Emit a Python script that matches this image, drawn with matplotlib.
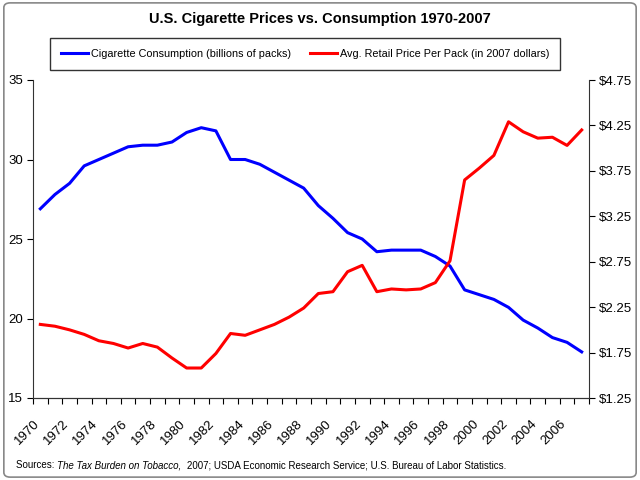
import numpy as np
import matplotlib
matplotlib.use('Agg')
import matplotlib.pyplot as plt
import matplotlib.transforms as mtransforms
from matplotlib.patches import FancyBboxPatch

plt.rcParams['font.family'] = ['Liberation Sans Narrow', 'Liberation Sans', 'DejaVu Sans']

# Data
years = list(range(1970, 2008))
consumption = [26.9, 27.8, 28.5, 29.6, 30.0, 30.4, 30.8, 30.9, 30.9, 31.1,
               31.7, 32.0, 31.8, 30.0, 30.0, 29.7, 29.2, 28.7, 28.2, 27.1,
               26.3, 25.4, 25.0, 24.2, 24.3, 24.3, 24.3, 23.9, 23.3, 21.8,
               21.5, 21.2, 20.7, 19.9, 19.4, 18.8, 18.5, 17.9]
price = [2.06, 2.04, 2.00, 1.95, 1.88, 1.85, 1.80, 1.85, 1.81, 1.69,
         1.58, 1.58, 1.74, 1.96, 1.94, 2.00, 2.06, 2.14, 2.24, 2.40,
         2.42, 2.64, 2.71, 2.42, 2.45, 2.44, 2.45, 2.52, 2.76, 3.65,
         3.78, 3.92, 4.29, 4.18, 4.11, 4.12, 4.03, 4.20]
left_ticks = [15, 20, 25, 30, 35]
right_ticks = [1.25, 1.75, 2.25, 2.75, 3.25, 3.75, 4.25, 4.75]

fig = plt.figure(figsize=(6.4, 4.8), dpi=100)
ax = fig.add_axes([33/640, 82/480, 556/640, 318/480])
ax2 = ax.twinx()

x = np.arange(len(years))
l1, = ax.plot(x, consumption, color='#0000ff', lw=2.2,
              label='Cigarette Consumption (billions of packs)')
l2, = ax2.plot(x, price, color='#ff0000', lw=2.2,
               label='Avg. Retail Price Per Pack (in 2007 dollars)')

ax.set_xlim(-0.5, len(years) - 0.5)
ax.set_ylim(15, 35)
ax2.set_ylim(1.25, 4.75)
ax.set_yticks(left_ticks)
ax2.set_yticks(right_ticks)
ax2.set_yticklabels(['$%.2f' % v for v in right_ticks])

# category boundaries get the tick marks, year labels drawn by hand (slanted)
ax.set_xticks(np.arange(-0.5, len(years)))
ax.set_xticklabels([])
ax.tick_params(axis='x', length=4, direction='out')
lab_tr = ax.get_xaxis_transform() + mtransforms.ScaledTranslation(-5/72, -14/72, fig.dpi_scale_trans)
for i in x[::2]:
    ax.text(i, 0, str(years[i]), transform=lab_tr, rotation=45, ha='right',
            va='top', rotation_mode='anchor', fontsize=9.5)

ax.tick_params(axis='y', direction='out', length=4, labelsize=9.5, pad=3)
ax2.tick_params(axis='y', direction='out', length=4, labelsize=9.5, pad=3)

for a in (ax, ax2):
    a.spines['top'].set_visible(False)
    for s in a.spines.values():
        s.set_color('#333333')
ax.spines['right'].set_visible(False)
ax2.spines['left'].set_visible(False)

fig.text(0.5, 1 - 19/480, 'U.S. Cigarette Prices vs. Consumption 1970-2007',
         ha='center', va='center', fontsize=10.5, fontweight='bold')

leg = fig.legend(handles=[l1, l2], loc='center', bbox_to_anchor=(305/640, 1 - 54/480),
                 ncol=2, frameon=True, fancybox=False, fontsize=7.8,
                 handlelength=2.5, handletextpad=0.3, columnspacing=1.7,
                 borderpad=1.0)
leg.get_frame().set_edgecolor('black')
leg.get_frame().set_linewidth(1.0)

# Source line with italic part
t1 = fig.text(16/640, 1 - 465/480, 'Sources: ', fontsize=7, va='center')
t2 = fig.text(0, 0, 'The Tax Burden on Tobacco,', fontsize=7, style='italic',
              va='center', transform=None)
fig.canvas.draw()
r = fig.canvas.get_renderer()
bb = t1.get_window_extent(r)
t2.set_position((bb.x1, (bb.y0 + bb.y1) / 2))
bb2 = t2.get_window_extent(r)
fig.text(bb2.x1 + 6, (bb.y0 + bb.y1) / 2,
         '2007; USDA Economic Research Service; U.S. Bureau of Labor Statistics.',
         fontsize=7, va='center', transform=None)

border = FancyBboxPatch((0.006, 0.006), 0.988, 0.988, boxstyle='round,pad=0,rounding_size=0.01',
                        transform=fig.transFigure, fill=False, edgecolor='#888888', lw=1.2)
fig.patches.append(border)

fig.savefig('out.png', dpi=100)
